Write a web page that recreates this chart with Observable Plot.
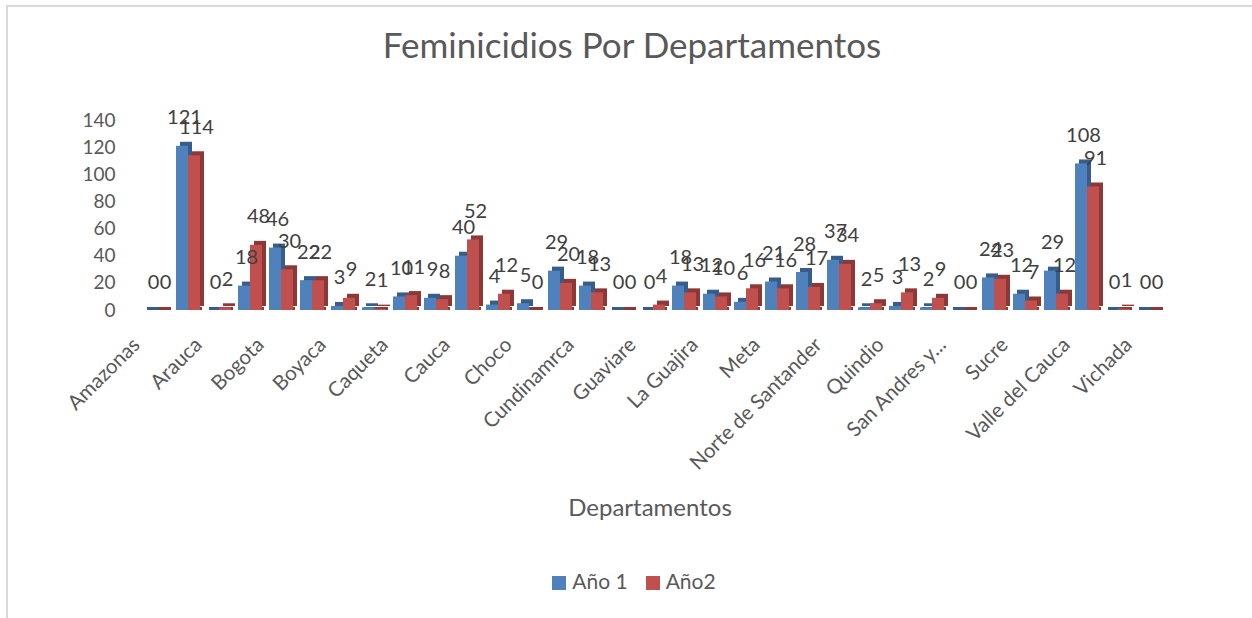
<!DOCTYPE html>
<html>
<head>
<meta charset="utf-8">
<script src="https://cdn.jsdelivr.net/npm/d3@7"></script>
<script src="https://cdn.jsdelivr.net/npm/@observablehq/plot@0.6"></script>
<style>
  html, body { margin:0; padding:0; background:#fff; width:1252px; height:618px; overflow:hidden; font-family: Lato, "Open Sans", sans-serif; color:#595959; }
  #frame { position:absolute; left:6px; top:5px; width:1300px; height:700px; border-left:2px solid #d9d9d9; border-top:2px solid #d9d9d9; }
  #title { position:absolute; left:0; width:1264px; top:24px; text-align:center; font-size:35px; line-height:40px; }
  #chart { position:absolute; left:0; top:100px; }
  #xtitle { position:absolute; left:0; width:1300px; top:493px; text-align:center; font-size:24px; line-height:28px; }
  #legend { position:absolute; left:0; width:1268px; top:568px; text-align:center; font-size:21px; line-height:26px; }
  .sw { display:inline-block; width:14px; height:14px; margin-right:6px; vertical-align:-1px; }
  .item { display:inline-block; margin:0 9px; }
</style>
</head>
<body>
<div id="frame"></div>
<div id="title">Feminicidios Por Departamentos</div>
<div id="chart"></div>
<div id="xtitle">Departamentos</div>
<div id="legend"></div>
<script>
const categories = ["Amazonas","Antioquia","Arauca","Atlantico","Bogota","Bolivar","Boyaca","Caldas","Caqueta","Casanare","Cauca","Cesar","Choco","Cordoba","Cundinamrca","Guainia","Guaviare","Huila","La Guajira","Magdalena","Meta","Narino","Norte de Santander","Putumayo","Quindio","Risaralda","San Andres y...","Santander","Sucre","Tolima","Valle del Cauca","Vaupes","Vichada"];
const shownLabels = ["Amazonas","Arauca","Bogota","Boyaca","Caqueta","Cauca","Choco","Cundinamrca","Guaviare","La Guajira","Meta","Norte de Santander","Quindio","San Andres y...","Sucre","Valle del Cauca","Vichada"];
const series = ["Año 1","Año2"];
const anio1 = [0,121,0,18,46,22,3,2,10,9,40,4,5,29,18,0,0,18,12,6,21,28,37,2,3,2,0,24,12,29,108,0,0];
const anio2 = [0,114,2,48,30,22,9,1,11,8,52,12,0,20,13,0,4,13,10,16,16,17,34,5,13,9,0,23,7,12,91,1,0];
const yTicks = [0,20,40,60,80,100,120,140];
const frontColors = ["#4F81BD","#C0504D"];
const sideColors = ["#385D8A","#8C3836"];

const rows1 = categories.map((c,i)=>({cat:c, serie:series[0], v:anio1[i]}));
const rows2 = categories.map((c,i)=>({cat:c, serie:series[1], v:anio2[i]}));

function barSet(rows, k) {
  return [
    Plot.barY(rows, {fx:"cat", x:"serie", y1:0, y2:0, insetTop:-3, fill:sideColors[k], dx:2}),
    Plot.barY(rows, {fx:"cat", x:"serie", y:"v", fill:sideColors[k], dx:4, dy:-4}),
    Plot.barY(rows, {fx:"cat", x:"serie", y:"v", fill:frontColors[k]})
  ];
}

const chart = Plot.plot({
  width:1252, height:380,
  marginLeft:140, marginRight:86, marginTop:20, marginBottom:170,
  style:{fontFamily:"Lato, 'Open Sans', sans-serif", color:"#595959", background:"transparent", overflow:"visible"},
  fx:{domain:categories, paddingInner:0.23, paddingOuter:0.115, label:null, axis:null},
  x:{domain:series, padding:0, axis:null},
  y:{domain:[0,140], label:null, axis:null},
  marks:[
    Plot.axisFx({ticks:shownLabels, tickRotate:-45, tickSize:0, tickPadding:31, dx:-21, label:null, fontSize:20.5, anchor:"bottom"}),
    Plot.axisY({ticks:yTicks, tickSize:0, tickPadding:30, label:null, fontSize:19}),
    ...barSet(rows1, 0),
    ...barSet(rows2, 1),
    Plot.text(rows1, {fx:"cat", x:"serie", y:"v", text:d=>String(d.v), dy:-22, dx:2, lineAnchor:"bottom", fontSize:20, fill:"#404040"}),
    Plot.text(rows2, {fx:"cat", x:"serie", y:"v", text:d=>String(d.v), dy:-22, dx:2, lineAnchor:"bottom", fontSize:20, fill:"#404040"})
  ]
});
document.getElementById("chart").appendChild(chart);

const legend = document.getElementById("legend");
series.forEach((s,i)=>{
  const it = document.createElement("span");
  it.className = "item";
  it.innerHTML = `<span class="sw" style="background:${frontColors[i]}"></span>${s}`;
  legend.appendChild(it);
});
</script>
</body>
</html>
